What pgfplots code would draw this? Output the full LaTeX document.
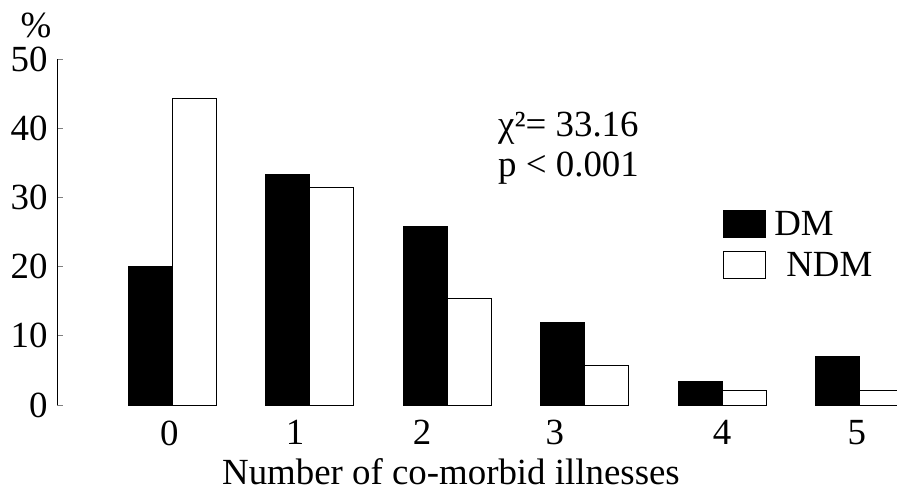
\documentclass[border=0pt]{standalone}
\usepackage{pgfplots}
\pgfplotsset{compat=1.18}
\usepackage{fontspec}
\setmainfont{Liberation Serif}
\begin{document}
\begin{tikzpicture}[font=\fontsize{37}{42}\selectfont]
\begin{axis}[
  at={(57bp,92bp)}, anchor=south west,
  scale only axis, width=840bp, height=346bp,
  xmin=-0.8364, xmax=5.2727, ymin=0, ymax=50,
  clip=false,
  axis x line=bottom, axis y line=left,
  axis line style={-, line width=0.8bp},
  x axis line style={draw=none},
  xtick style={draw=none},
  ytick={0,10,20,30,40,50},
  ytick align=inside,
  major tick length=6bp,
  ytick style={line width=0.8bp},
  yticklabel style={xshift=-6bp},
  xtick={-0.02,0.895,1.818,2.785,4.0,4.98},
  xticklabels={0,1,2,3,4,5},
  xticklabel style={yshift=-6bp},
  /pgf/number format/assume math mode=true,
  ylabel={\%},
  ylabel style={rotate=-90, at={(rel axis cs:-0.025,1.098)}, anchor=center},
  xlabel={Number of co-morbid illnesses},
  xlabel style={at={(rel axis cs:0.469,-0.231)}, anchor=base},
  ybar, bar width=0.32,
  legend image code/.code={\draw[#1, line width=1bp] (0bp,-13.5bp) rectangle (42bp,13.5bp);},
  legend style={at={(0.793,0.565)}, anchor=north west, draw=none, fill=none,
    inner sep=0pt, row sep=13bp, nodes={inner sep=1bp}},
  legend cell align=left,
]
\addplot[bar shift=-0.16, fill=black, draw=black, line width=0.5bp] coordinates {(0,20.0) (1,33.3) (2,25.8) (3,11.9) (4,3.4) (5,7.0)};
\addplot[bar shift=0.16, fill=white, draw=black, line width=1bp] coordinates {(0,44.3) (1,31.5) (2,15.4) (3,5.7) (4,2.1) (5,2.1)};
\legend{\hspace*{7bp}DM, \hspace*{19bp}NDM}
\node[anchor=base west, inner sep=0pt] at (axis cs:2.371,38.73) {χ²= 33.16};
\node[anchor=base west, inner sep=0pt] at (axis cs:2.371,33.0) {p < 0.001};
\end{axis}
\pgfresetboundingbox
\path[use as bounding box] (0,0) rectangle (897bp,497bp);
\end{tikzpicture}
\end{document}
